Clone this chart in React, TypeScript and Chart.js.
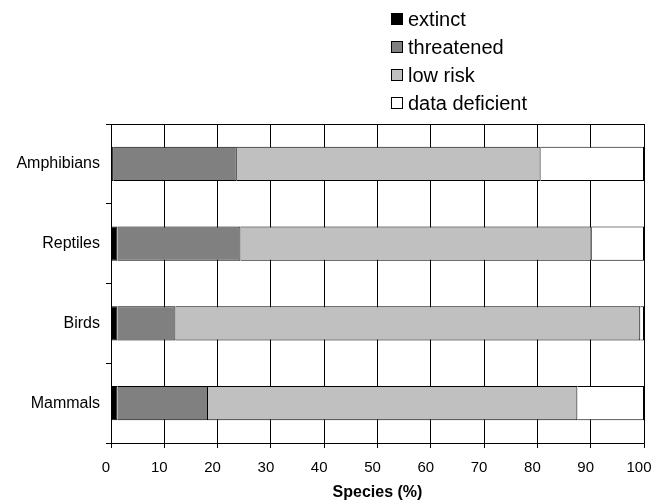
import React, { useEffect, useRef } from "react";
import { Chart, registerables } from "chart.js";

Chart.register(...registerables);

const categories = ["Amphibians", "Reptiles", "Birds", "Mammals"];
const seriesNames = ["extinct", "threatened", "low risk", "data deficient"];
const extinct = [0.5, 1.2, 1.2, 1.2];
const threatened = [23.1, 23.1, 10.9, 17.0];
const lowRisk = [57.0, 65.9, 87.2, 69.3];
const dataDeficient = [19.4, 9.8, 0.7, 12.5];
const xTicks = [0, 10, 20, 30, 40, 50, 60, 70, 80, 90, 100];
const colors = ["#000000", "#808080", "#c0c0c0", "#ffffff"];

const FONT = "'Liberation Sans', Arial, sans-serif";

const legendPlugin = {
  id: "vlegend",
  afterDraw(chart: any) {
    const ctx = chart.ctx;
    ctx.save();
    const x0 = 391;
    const rows = [19, 47, 75, 103];
    chart.data.datasets.forEach((ds: any, i: number) => {
      const cy = rows[i];
      ctx.fillStyle = ds.backgroundColor;
      ctx.fillRect(x0 + 0.5, cy - 5.5, 11, 11);
      ctx.strokeStyle = "#000";
      ctx.lineWidth = 1;
      ctx.strokeRect(x0 + 0.5, cy - 5.5, 11, 11);
      ctx.fillStyle = "#000";
      ctx.font = `20px ${FONT}`;
      ctx.textBaseline = "middle";
      ctx.textAlign = "left";
      ctx.fillText(ds.label, x0 + 17, cy + 1);
    });
    ctx.restore();
  },
};

export default function App() {
  const ref = useRef<HTMLCanvasElement | null>(null);
  useEffect(() => {
    if (!ref.current) return;
    const series = [extinct, threatened, lowRisk, dataDeficient];
    const chart = new Chart(ref.current, {
      type: "bar",
      data: {
        labels: categories,
        datasets: series.map((d, i) => ({
          label: seriesNames[i],
          data: d,
          backgroundColor: colors[i],
          borderColor: "#000000",
          borderWidth: 1,
          barPercentage: 0.43,
          categoryPercentage: 1,
        })),
      },
      options: {
        indexAxis: "y",
        animation: false,
        responsive: true,
        maintainAspectRatio: false,
        layout: { padding: { top: 124, right: 19, left: 0, bottom: 0 } },
        plugins: {
          legend: { display: false },
          tooltip: { enabled: false },
        },
        scales: {
          x: {
            stacked: true,
            min: 0,
            max: 100,
            afterBuildTicks: (s: any) => {
              s.ticks = xTicks.map((v) => ({ value: v }));
            },
            ticks: {
              color: "#000",
              font: { family: FONT, size: 15 },
              padding: 11,
              labelOffset: -5,
              maxRotation: 0,
            },
            grid: { color: "#000", lineWidth: 1, tickLength: 5, tickColor: "#000" },
            border: { color: "#000", width: 1 },
            title: {
              display: true,
              text: "Species (%)",
              color: "#000",
              font: { family: FONT, size: 16, weight: "bold" },
              padding: { top: 6, bottom: 0 },
            },
            afterFit: (s: any) => {
              s.height = 59;
              s.paddingLeft = 0;
              s.paddingRight = 0;
            },
          },
          x2: {
            type: "linear",
            position: "top",
            min: 0,
            max: 100,
            ticks: { display: false },
            grid: { display: false },
            border: { display: true, color: "#000", width: 1 },
            afterFit: (s: any) => {
              s.height = 0;
              s.paddingLeft = 0;
              s.paddingRight = 0;
            },
          },
          y: {
            stacked: true,
            ticks: {
              color: "#000",
              font: { family: FONT, size: 16 },
              padding: 6,
            },
            grid: {
              drawOnChartArea: false,
              offset: true,
              tickLength: 5,
              color: "#000",
            },
            border: { color: "#000", width: 1 },
            afterFit: (s: any) => {
              s.width = 111;
            },
          },
        },
      },
      plugins: [legendPlugin],
    });
    return () => chart.destroy();
  }, []);
  return (
    <div style={{ position: "fixed", left: 0, top: 0, width: 663, height: 502, background: "#fff" }}>
      <canvas ref={ref} />
    </div>
  );
}
